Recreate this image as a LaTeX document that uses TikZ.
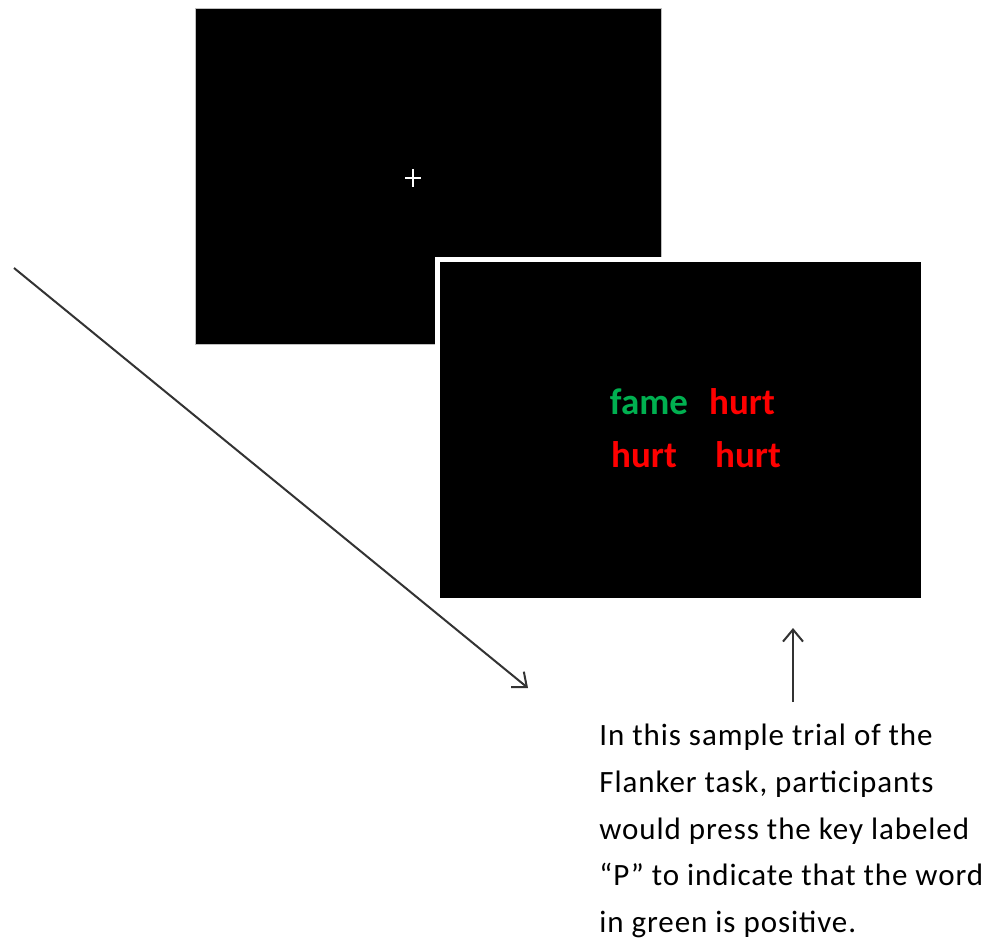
\documentclass[tikz,border=0pt]{standalone}
\usepackage{fontspec}
\setmainfont{Carlito}
\newfontfamily\notefont[LetterSpace=3]{Carlito}
\usepackage{tikz}
\usetikzlibrary{arrows.meta,positioning,calc}
\definecolor{flankgreen}{RGB}{0,176,80}
\definecolor{flankred}{RGB}{255,0,0}
\tikzset{
    screen/.style={fill=black,draw=gray!50,very thin,inner sep=0pt,minimum height=168pt},
    front screen/.style={screen,draw=white,line width=2.5pt},
    word/.style={font=\fontsize{18.5}{21}\selectfont\bfseries,inner sep=0pt},
    target word/.style={word,text=flankgreen},
    flanker word/.style={word,text=flankred},
    arr/.style={-{Straight Barb[length=6pt,width=10pt]},line width=1pt,black!80},
    cross/.style={white,line width=1pt},
}

\begin{document}
\begin{tikzpicture}[x=0.5pt,y=-0.5pt]
        \useasboundingbox (0,0) rectangle (994,941);
        % fixation screen, then the stimulus screen on top of it
        \node[screen,minimum width=233pt] (fixation) at (428,176) {};
        \coordinate (fixpoint) at (413,178);
        \draw[cross] ($(fixpoint)+(-8,0)$) -- ($(fixpoint)+(8,0)$);
        \draw[cross] ($(fixpoint)+(0,-9)$) -- ($(fixpoint)+(0,9)$);
        \node[front screen,minimum width=243pt,minimum height=170.5pt] (stimulus) at (680,430) {};
        \node[target word] (fame) at (649,402) {fame};
        \node[flanker word] (hurtA) at (742,402) {hurt};
        \node[flanker word] (hurtB) at (644,455) {hurt};
        \node[flanker word] (hurtC) at (748,455) {hurt};

        % time arrow
        \coordinate (timestart) at (14,268);
        \coordinate (timeend) at (528,688);
        \draw[arr] (timestart) -- (timeend);

        % note with the key press
        \node[anchor=north west,align=left,inner sep=0pt,
              font=\notefont\fontsize{15.5}{23.3}\selectfont] (note) at (599,724)
            {In this sample trial of the\\
             Flanker task, participants\\
             would press the key labeled\\
             “P” to indicate that the word\\
             in green is positive.};
        \coordinate (keytip) at (793,628);
        \draw[arr] (keytip |- note.north) ++(0,-22) -- (keytip);
    \end{tikzpicture}
\end{document}
